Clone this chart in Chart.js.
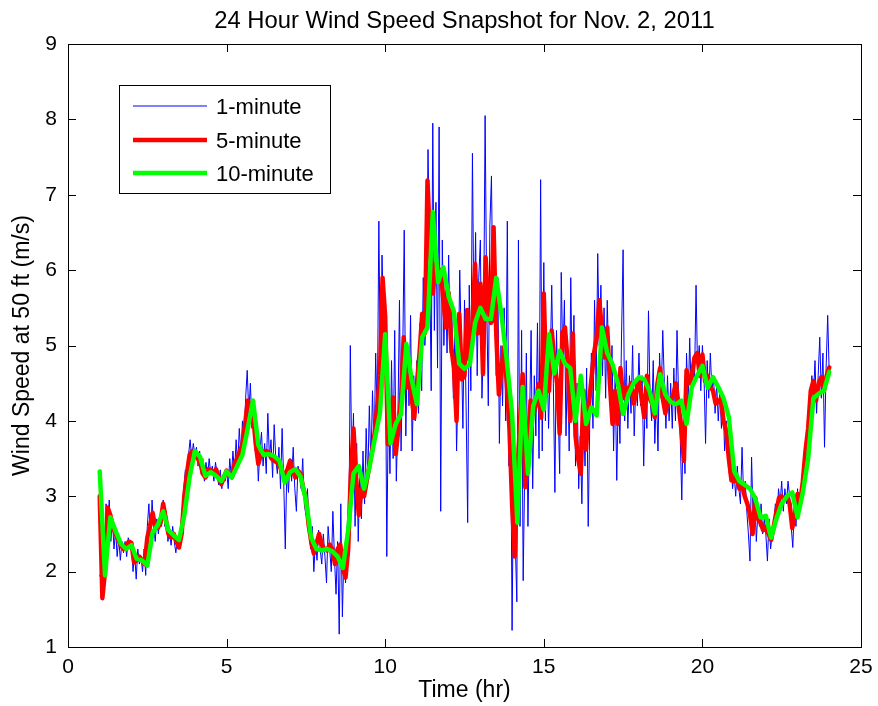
<!DOCTYPE html>
<html>
<head>
<meta charset="utf-8">
<title>24 Hour Wind Speed Snapshot</title>
<script src="https://cdn.jsdelivr.net/npm/chart.js@4.4.1/dist/chart.umd.min.js"></script>
<style>
  html, body { margin: 0; padding: 0; background: #fff; }
  canvas { display: block; }
</style>
</head>
<body>
<canvas id="windChart" width="878" height="706"></canvas>
<script>
// all series start at hour 1 and run to hour 24
const startHour = 1;

// 1-minute wind speed at a 3 minute spacing (20 values per hour)
const oneMinuteStep = 3;
const oneMinute = [
  1.95, 1.9, 1.62, 2.1, 2.9, 2.6, 2.95, 2.4, 2.7, 2.3, 2.55, 2.2, 2.45, 2.15, 2.4, 2.25, 2.4, 2.2, 2.45, 2.35,
  2.4, 2.0, 2.25, 1.9, 2.3, 2.1, 2.2, 2.0, 2.3, 1.95, 2.6, 2.9, 2.4, 2.95, 2.6, 2.4, 2.7, 2.5, 2.75, 2.6,
  2.95, 2.6, 2.8, 2.4, 2.55, 2.35, 2.6, 2.4, 2.25, 2.45, 2.3, 2.6, 2.8, 3.1, 3.35, 3.2, 3.55, 3.75, 3.5, 3.7,
  3.55, 3.65, 3.4, 3.6, 3.3, 3.5, 3.2, 3.45, 3.25, 3.5, 3.3, 3.4, 3.2, 3.45, 3.3, 3.15, 3.35, 3.1, 3.3, 3.2,
  3.35, 3.1, 3.5, 3.25, 3.6, 3.3, 3.75, 3.4, 3.9, 3.55, 4.0, 3.7, 4.3, 4.67, 4.1, 4.5, 3.9, 4.2, 3.6, 3.8,
  3.2, 3.6, 3.85, 3.4, 3.7, 3.3, 4.1, 3.5, 3.75, 3.25, 3.95, 3.5, 3.3, 3.65, 3.1, 3.9, 3.2, 2.3, 3.4, 3.05,
  3.5, 3.2, 3.65, 3.1, 2.8, 3.4, 3.3, 3.1, 3.5, 2.9, 2.75, 3.1, 2.5, 2.3, 2.6, 2.0, 2.4, 2.15, 2.55, 2.3,
  2.1, 2.5, 2.2, 1.85, 2.6, 2.3, 2.0, 2.8, 2.2, 1.7, 2.4, 1.17, 2.9, 1.4, 2.3, 1.85, 2.6, 2.2, 5.0, 3.3,
  4.1, 2.6, 3.7, 2.4, 3.3, 2.7, 3.6, 2.9, 3.9, 3.2, 4.2, 3.4, 4.4, 3.6, 4.9, 4.0, 6.65, 4.5, 6.2, 5.3,
  5.6, 2.2, 4.3, 3.3, 4.8, 3.5, 5.2, 3.2, 4.0, 5.6, 3.6, 4.8, 6.53, 3.8, 5.0, 4.2, 5.4, 3.6, 4.6, 4.0,
  4.8, 4.1, 5.3, 4.4, 5.9, 5.0, 5.5, 7.6, 6.2, 4.4, 7.95, 5.2, 6.9, 4.7, 7.9, 2.8, 6.4, 5.0, 5.9, 4.9,
  6.2, 4.9, 5.5, 4.3, 5.2, 3.6, 4.5, 6.0, 5.0, 3.9, 5.6, 4.2, 2.65, 5.8, 4.4, 7.55, 5.2, 6.5, 4.6, 5.9,
  6.4, 4.3, 5.1, 8.05, 5.6, 4.2, 6.6, 7.25, 5.3, 6.2, 4.6, 5.9, 3.7, 5.0, 4.2, 5.5, 4.0, 6.65, 3.4, 4.5,
  1.22, 3.6, 2.4, 1.6, 6.4, 2.6, 5.2, 1.88, 3.4, 4.9, 2.6, 4.0, 5.2, 3.1, 4.6, 3.8, 5.3, 3.5, 7.2, 3.6,
  6.1, 4.0, 5.0, 3.9, 4.7, 5.8, 4.5, 3.05, 5.2, 4.2, 3.3, 5.97, 4.8, 5.6, 3.8, 4.9, 3.6, 5.9, 4.3, 5.4,
  3.4, 4.5, 3.1, 3.8, 2.9, 4.1, 3.4, 4.7, 2.6, 4.0, 4.9, 3.9, 5.6, 4.4, 6.22, 5.0, 5.8, 4.6, 5.5, 4.3,
  5.6, 4.7, 4.2, 5.0, 3.6, 4.6, 3.21, 4.4, 3.7, 5.1, 6.27, 4.0, 4.8, 3.9, 4.6, 4.1, 5.0, 3.8, 4.5, 4.2,
  4.9, 4.2, 4.6, 3.4, 4.4, 3.9, 5.46, 4.3, 4.0, 4.8, 3.7, 4.4, 3.6, 4.9, 4.3, 5.2, 4.5, 3.9, 4.6, 4.0,
  4.5, 3.9, 4.7, 4.0, 5.2, 4.3, 3.8, 2.95, 4.1, 3.3, 4.9, 4.2, 5.1, 4.3, 4.8, 4.5, 5.8, 4.6, 5.0, 4.4,
  5.0, 4.6, 3.7, 4.8, 4.3, 4.9, 4.4, 4.6, 4.1, 4.5, 4.0, 4.4, 3.9, 4.3, 3.6, 4.0, 3.5, 3.3, 3.6, 3.1,
  3.3, 3.0, 3.4, 3.1, 2.9, 3.65, 3.0, 3.2, 2.8, 2.5, 2.14, 3.52, 2.7, 3.0, 2.4, 2.8, 2.6, 2.9, 2.5, 2.7,
  2.5, 2.14, 2.7, 2.3, 2.5, 2.6, 2.9, 2.7, 3.1, 2.9, 3.2, 2.8, 3.1, 2.9, 3.2, 3.0, 2.6, 2.32, 2.9, 2.6,
  3.1, 2.8, 3.0, 3.3, 3.2, 3.7, 3.5, 4.1, 3.9, 4.6, 4.3, 4.8, 4.1, 4.6, 5.11, 4.3, 4.9, 3.65, 4.7, 5.4,
  4.6
];

// 5-minute averages (12 values per hour)
const fiveMinuteStep = 5;
const fiveMinute = [
  3.0, 1.65, 2.0, 2.85, 2.75, 2.6, 2.5, 2.42, 2.35, 2.3, 2.35, 2.4,
  2.38, 2.12, 2.15, 2.2, 2.15, 2.1, 2.45, 2.6, 2.78, 2.6, 2.58, 2.65,
  2.9, 2.7, 2.5, 2.45, 2.5, 2.4, 2.32, 2.5, 3.0, 3.3, 3.55, 3.6,
  3.56, 3.5, 3.45, 3.3, 3.25, 3.36, 3.35, 3.3, 3.36, 3.25, 3.16, 3.25,
  3.34, 3.3, 3.25, 3.43, 3.5, 3.6, 3.69, 3.95, 4.27, 4.2, 4.09, 3.7,
  3.43, 3.55, 3.6, 3.6, 3.58, 3.5, 3.47, 3.45, 3.4, 3.34, 3.25, 3.35,
  3.47, 3.35, 3.25, 3.34, 3.3, 3.1, 2.98, 2.63, 2.4, 2.24, 2.37, 2.5,
  2.36, 2.3, 2.28, 2.36, 2.3, 2.1, 2.3, 2.36, 2.05, 1.92, 2.3, 3.3,
  3.9, 3.25, 2.75, 3.1, 3.0, 3.2, 3.4, 3.6, 3.83, 4.2, 4.6, 5.9,
  5.38, 3.69, 3.8, 4.31, 3.56, 3.9, 4.3, 5.11, 4.44, 4.6, 4.3, 4.04,
  4.5, 4.9, 5.42, 5.16, 7.19, 6.3, 5.69, 6.08, 5.9, 6.0, 5.6, 5.24,
  5.7, 4.98, 4.7, 4.0, 5.42, 4.55, 4.6, 5.47, 4.8, 5.3, 6.08, 5.16,
  5.82, 4.62, 6.17, 5.5, 5.3, 6.57, 5.16, 4.35, 4.7, 4.98, 4.5, 3.9,
  2.9, 2.2, 3.3, 4.0, 4.62, 3.12, 3.6, 4.27, 4.1, 4.2, 4.49, 4.04,
  5.69, 4.44, 4.4, 5.2, 4.8, 4.5, 3.83, 5.16, 5.24, 4.8, 4.0, 5.16,
  3.8, 3.5, 3.3, 4.4, 3.62, 4.2, 4.55, 4.9, 5.1, 5.6, 5.2, 4.84,
  5.24, 4.5, 3.96, 4.4, 3.96, 4.7, 4.3, 4.45, 4.35, 4.5, 4.23, 4.4,
  4.55, 4.3, 4.05, 4.6, 4.3, 4.23, 4.05, 4.5, 4.7, 4.3, 4.1, 4.3,
  4.25, 4.35, 4.5, 4.2, 3.9, 3.47, 4.67, 4.5, 4.6, 4.84, 4.9, 4.6,
  4.88, 4.53, 4.6, 4.45, 4.4, 4.23, 4.25, 4.3, 4.0, 3.87, 3.5, 3.21,
  3.2, 3.25, 3.1, 3.15, 3.0, 2.9, 2.76, 2.5, 2.98, 2.7, 2.65, 2.55,
  2.6, 2.5, 2.42, 2.6, 2.8, 2.98, 3.0, 2.95, 3.0, 2.9, 2.58, 2.75,
  3.03, 2.9, 3.2, 3.6, 3.9, 4.4, 4.53, 4.27, 4.5, 4.58, 4.4, 4.6,
  4.71
];

// 10-minute averages (6 values per hour)
const tenMinuteStep = 10;
const tenMinute = [
  3.33, 1.95, 2.72, 2.54, 2.37, 2.30,
  2.35, 2.17, 2.15, 2.08, 2.52, 2.62,
  2.80, 2.55, 2.48, 2.42, 2.75, 3.25,
  3.60, 3.52, 3.27, 3.32, 3.27, 3.20,
  3.33, 3.25, 3.40, 3.55, 3.90, 4.27,
  3.68, 3.55, 3.56, 3.53, 3.47, 3.18,
  3.32, 3.36, 3.26, 2.95, 2.45, 2.30,
  2.28, 2.30, 2.27, 2.20, 2.05, 2.55,
  3.30, 3.40, 3.10, 3.38, 3.75, 4.10,
  5.15, 3.70, 3.96, 4.09, 5.02, 4.55,
  4.22, 5.11, 5.24, 6.77, 5.84, 6.04,
  5.65, 5.45, 4.76, 4.69, 4.75, 5.30,
  5.50, 5.35, 5.35, 5.90, 5.40, 4.80,
  4.10, 2.65, 4.45, 3.30, 4.20, 4.40,
  4.15, 5.15, 4.63, 4.93, 4.76, 4.70,
  4.00, 4.60, 3.96, 4.18, 4.07, 5.24,
  4.90, 4.75, 4.50, 4.09, 4.35, 4.50,
  4.58, 4.55, 4.40, 4.10, 4.62, 4.35,
  4.25, 4.22, 4.27, 3.96, 4.45, 4.60,
  4.73, 4.44, 4.58, 4.45, 4.30, 4.05,
  3.34, 3.20, 3.15, 3.10, 2.97, 2.72,
  2.74, 2.45, 2.70, 2.90, 3.00, 3.05,
  2.72, 3.05, 3.50, 4.30, 4.36, 4.40,
  4.65
];

const seriesLabels = ['1-minute', '5-minute', '10-minute'];
const xTicks = [0, 5, 10, 15, 20, 25];
const yTicks = [1, 2, 3, 4, 5, 6, 7, 8, 9];
const chartTitle = '24 Hour Wind Speed Snapshot for Nov. 2, 2011';

const fontFamily = "'Liberation Sans', Arial, Helvetica, sans-serif";

function toPoints(values, stepMinutes) {
  return values.map((v, i) => ({ x: startHour + i * stepMinutes / 60, y: v }));
}

// title over the plot box, frame with inward ticks on all four sides, legend box
const frameAndLegend = {
  id: 'frameAndLegend',
  afterDraw(chart) {
    const ctx = chart.ctx;
    const area = chart.chartArea;
    const xs = chart.scales.x;
    const ys = chart.scales.y;
    const tickLen = 8;

    ctx.save();
    ctx.fillStyle = '#000';
    ctx.font = '23.8px ' + fontFamily;
    ctx.textAlign = 'center';
    ctx.textBaseline = 'middle';
    ctx.fillText(chartTitle, (area.left + area.right) / 2, 21);

    ctx.strokeStyle = '#000';
    ctx.lineWidth = 1;
    ctx.beginPath();
    xTicks.forEach(t => {
      const px = Math.round(xs.getPixelForValue(t)) + 0.5;
      ctx.moveTo(px, area.bottom);
      ctx.lineTo(px, area.bottom - tickLen);
      ctx.moveTo(px, area.top);
      ctx.lineTo(px, area.top + tickLen);
    });
    yTicks.forEach(t => {
      const py = Math.round(ys.getPixelForValue(t)) + 0.5;
      ctx.moveTo(area.left, py);
      ctx.lineTo(area.left + tickLen, py);
      ctx.moveTo(area.right, py);
      ctx.lineTo(area.right - tickLen, py);
    });
    ctx.stroke();
    ctx.strokeRect(Math.round(area.left) + 0.5, Math.round(area.top) + 0.5,
      Math.round(area.right - area.left), Math.round(area.bottom - area.top));

    // legend box
    const box = { x: 119.5, y: 85.5, w: 211, h: 108 };
    ctx.fillStyle = '#fff';
    ctx.fillRect(box.x, box.y, box.w, box.h);
    ctx.strokeRect(box.x, box.y, box.w, box.h);
    const rows = [106, 140, 173];
    ctx.font = '22px ' + fontFamily;
    ctx.textAlign = 'left';
    chart.data.datasets.forEach((ds, i) => {
      ctx.strokeStyle = ds.borderColor;
      ctx.lineWidth = ds.borderWidth;
      ctx.beginPath();
      ctx.moveTo(133, rows[i]);
      ctx.lineTo(207, rows[i]);
      ctx.stroke();
      ctx.fillStyle = '#000';
      ctx.fillText(ds.label, 216, rows[i] + 2);
    });
    ctx.restore();
  }
};

const ctx = document.getElementById('windChart').getContext('2d');

new Chart(ctx, {
  type: 'line',
  data: {
    datasets: [{
      label: seriesLabels[0],
      data: toPoints(oneMinute, oneMinuteStep),
      borderColor: '#0000ff',
      borderWidth: 1,
      order: 3
    }, {
      label: seriesLabels[1],
      data: toPoints(fiveMinute, fiveMinuteStep),
      borderColor: '#ff0000',
      borderWidth: 4.5,
      order: 2
    }, {
      label: seriesLabels[2],
      data: toPoints(tenMinute, tenMinuteStep),
      borderColor: '#00ff00',
      borderWidth: 4.5,
      order: 1
    }]
  },
  options: {
    responsive: false,
    animation: false,
    devicePixelRatio: 1,
    elements: {
      point: { radius: 0 },
      line: { tension: 0, borderJoinStyle: 'round', borderCapStyle: 'round' }
    },
    layout: {
      padding: { left: 0, right: 17, top: 44, bottom: 0 }
    },
    scales: {
      x: {
        type: 'linear',
        min: 0,
        max: 25,
        afterBuildTicks: scale => { scale.ticks = xTicks.map(v => ({ value: v })); },
        afterFit: scale => {
          scale.height = 59;
          scale.paddingLeft = 0;
          scale.paddingRight = 0;
        },
        grid: { display: false, drawTicks: false },
        border: { display: false },
        ticks: {
          color: '#000',
          padding: 8,
          maxRotation: 0,
          font: { family: fontFamily, size: 21 }
        },
        title: {
          display: true,
          text: 'Time (hr)',
          color: '#000',
          padding: { top: 0, bottom: 2 },
          font: { family: fontFamily, size: 23 }
        }
      },
      y: {
        type: 'linear',
        min: 1,
        max: 9,
        afterBuildTicks: scale => { scale.ticks = yTicks.map(v => ({ value: v })); },
        afterFit: scale => { scale.width = 68; },
        grid: { display: false, drawTicks: false },
        border: { display: false },
        ticks: {
          color: '#000',
          padding: 11,
          font: { family: fontFamily, size: 21 }
        },
        title: {
          display: true,
          text: 'Wind Speed at 50 ft (m/s)',
          color: '#000',
          padding: { top: 9, bottom: 0 },
          font: { family: fontFamily, size: 23 }
        }
      }
    },
    plugins: {
      legend: { display: false },
      tooltip: { enabled: false },
      title: { display: false }
    }
  },
  plugins: [frameAndLegend]
});
</script>
</body>
</html>
